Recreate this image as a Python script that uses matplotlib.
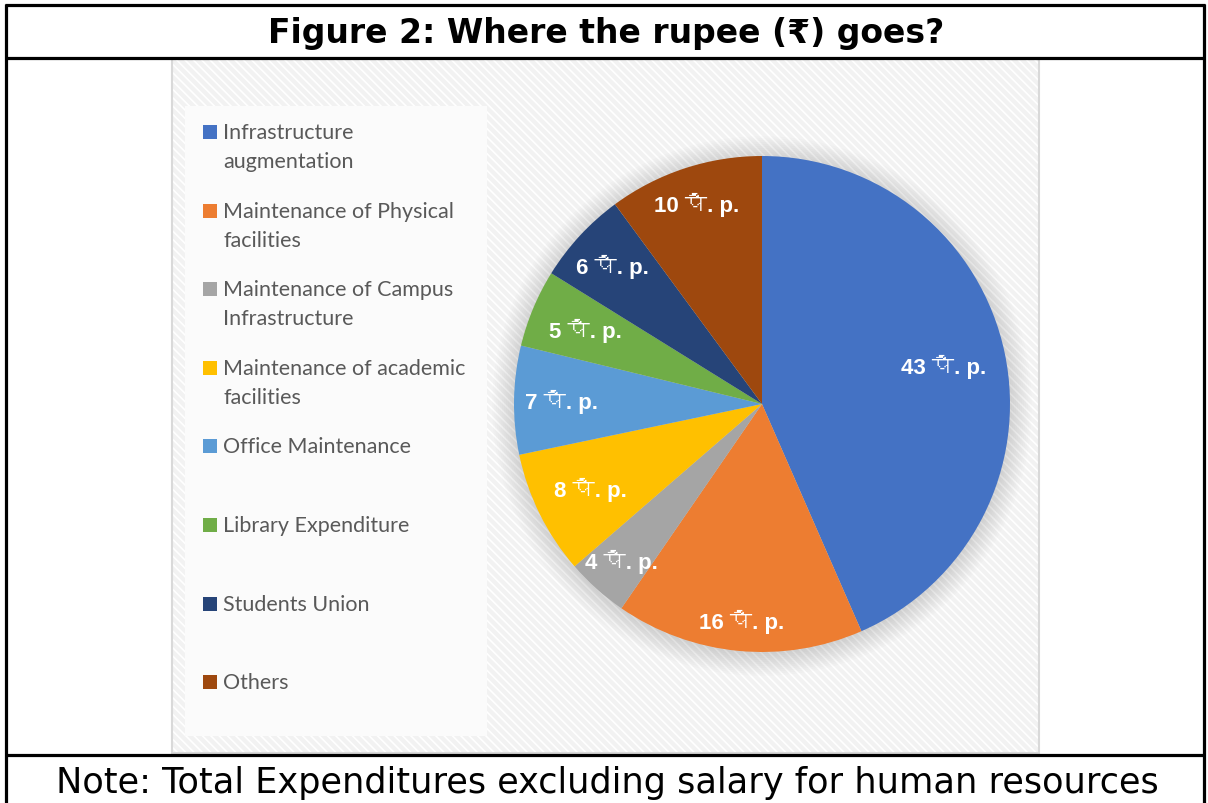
import matplotlib
matplotlib.use("Agg")
import matplotlib.pyplot as plt
import numpy as np
from matplotlib import font_manager as fm
from matplotlib.ft2font import FT2Font
from matplotlib.patches import Rectangle, Circle
from matplotlib.lines import Line2D

title = "Figure 2: Where the rupee (\u20b9) goes?"
note = "Note: Total Expenditures excluding salary for human resources"

categories = [
    "Infrastructure\naugmentation",
    "Maintenance of Physical\nfacilities",
    "Maintenance of Campus\nInfrastructure",
    "Maintenance of academic\nfacilities",
    "Office Maintenance",
    "Library Expenditure",
    "Students Union",
    "Others",
]
values = [43, 16, 4, 8, 7, 5, 6, 10]
unit = "पै. p."
colors = ["#4472C4", "#ED7D31", "#A5A5A5", "#FFC000",
          "#5B9BD5", "#70AD47", "#264478", "#9E480E"]
# radial position of each value label (fraction of radius)
label_r = [0.75, 0.88, 0.85, 0.77, 0.81, 0.77, 0.82, 0.85]


def find_devanagari():
    for f in fm.fontManager.ttflist:
        try:
            cmap = FT2Font(f.fname).get_charmap()
        except Exception:
            continue
        if 0x092A in cmap and 0x0948 in cmap:
            return f.name
    return None


deva = find_devanagari()
label_family = ["Liberation Sans"] + ([deva] if deva else []) + ["DejaVu Sans"]

W, H = 1208, 804
fig = plt.figure(figsize=(W / 100, H / 100), dpi=100)
fig.patch.set_facecolor("white")


def fx(x):
    return x / W


def fy(y):
    return 1 - y / H


def hline(x0, x1, y):
    fig.add_artist(Line2D([fx(x0), fx(x1)], [fy(y), fy(y)], color="black",
                          lw=2.3, transform=fig.transFigure, solid_capstyle="butt"))


def vline(x, y0, y1):
    fig.add_artist(Line2D([fx(x), fx(x)], [fy(y0), fy(y1)], color="black",
                          lw=2.3, transform=fig.transFigure, solid_capstyle="butt"))


# table frame
hline(5, 1205, 6)
hline(5, 1205, 59)
hline(5, 1205, 756)
vline(6, 5, 804)
vline(1204, 5, 804)

# chart area with patterned fill
plt.rcParams["hatch.linewidth"] = 1.2
bg = Rectangle((fx(172), fy(754)), (1039 - 172) / W, (754 - 59) / H,
               transform=fig.transFigure, facecolor="#f2f2f2",
               edgecolor="white", hatch="\\\\\\\\", lw=0, zorder=0)
fig.add_artist(bg)
fig.add_artist(Rectangle((fx(172), fy(754)), (1039 - 172) / W, (754 - 59) / H,
                         transform=fig.transFigure, fill=False,
                         edgecolor="#d9d9d9", lw=1.5, zorder=0.5))
fig.add_artist(Rectangle((fx(185), fy(737)), (487 - 185) / W, (737 - 107) / H,
                         transform=fig.transFigure, facecolor="#fbfbfb", lw=0,
                         zorder=0.5))

# pie
cx, cy, r = 762, 405, 248
ax = fig.add_axes([fx(cx - r), fy(cy + r), 2 * r / W, 2 * r / H])
ax.set_zorder(5)
ax.set_axis_off()
for i in range(12):
    ax.add_patch(Circle((0.0, -0.008), 1.0 + 0.008 * i, color="black",
                        alpha=0.012, lw=0, clip_on=False, zorder=0))
wedges, _ = ax.pie(values, colors=colors, startangle=90, counterclock=False,
                   wedgeprops=dict(linewidth=0))
for w, v, lr in zip(wedges, values, label_r):
    ang = np.deg2rad((w.theta1 + w.theta2) / 2)
    ax.text(lr * np.cos(ang), lr * np.sin(ang), f"{v} {unit}",
            ha="center", va="center", color="white", fontsize=16,
            fontweight="bold", family=label_family)
ax.set_xlim(-1, 1)
ax.set_ylim(-1, 1)

# legend
for i, (cat, col) in enumerate(zip(categories, colors)):
    y0 = 133 + i * 78.6
    fig.add_artist(Rectangle((fx(203), fy(y0 + 7)), 14 / W, 14 / H,
                             transform=fig.transFigure, facecolor=col, lw=0,
                             zorder=3))
    for k, line in enumerate(cat.split("\n")):
        fig.text(fx(223), fy(y0 + k * 29), line, ha="left", va="center",
                 fontsize=15.5, color="#595959", family=["Lato", "DejaVu Sans"])

fig.text(fx(606), fy(33), title, ha="center", va="center", fontsize=23.8,
         fontweight="bold", family=["DejaVu Sans"])
fig.text(fx(607), fy(783), note, ha="center", va="center", fontsize=25.3,
         family=["DejaVu Sans"])

fig.savefig("out.png", dpi=100)
